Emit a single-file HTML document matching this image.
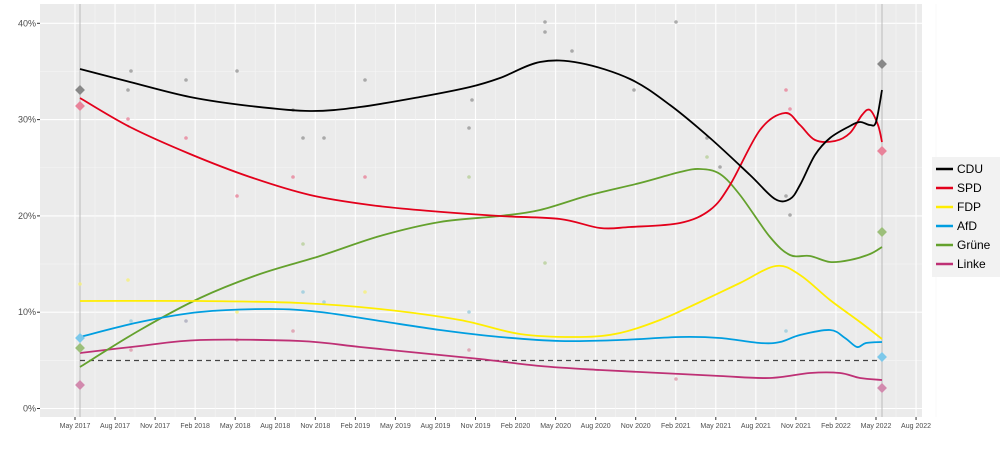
<!DOCTYPE html>
<html><head><meta charset="utf-8"><style>
body{margin:0;background:#fff;width:1000px;height:444px;overflow:hidden;font-family:"Liberation Sans",sans-serif}
</style></head><body>
<svg id="s" width="1000" height="444" xmlns="http://www.w3.org/2000/svg" font-family="Liberation Sans, sans-serif">
<rect x="40" y="4" width="882" height="413" fill="#ebebeb"/>
<g id="grid"></g>
<line x1="80" y1="4" x2="80" y2="417" stroke="#bbb" stroke-width="1"/>
<line x1="882" y1="4" x2="882" y2="417" stroke="#bbb" stroke-width="1"/>
<g id="ylab" font-size="9" fill="#4d4d4d" text-anchor="end"></g>
<g id="xlab" font-size="7" fill="#4d4d4d" text-anchor="middle"></g>
<g id="dots"></g>
<line x1="80" y1="360.5" x2="882" y2="360.5" stroke="#444" stroke-width="1.3" stroke-dasharray="5,4"/>
<g id="lines" fill="none" stroke-width="1.8"></g>
<g transform="translate(932,157)">
<rect x="0" y="0" width="68" height="120" fill="#f2f2f2"/>
<g font-size="12" fill="#000">
<line x1="4" y1="12" x2="21" y2="12" stroke="#000" stroke-width="2.5"/><text x="25" y="16">CDU</text>
<line x1="4" y1="31" x2="21" y2="31" stroke="#e3001b" stroke-width="2.5"/><text x="25" y="35">SPD</text>
<line x1="4" y1="50" x2="21" y2="50" stroke="#ffed00" stroke-width="2.5"/><text x="25" y="54">FDP</text>
<line x1="4" y1="69" x2="21" y2="69" stroke="#009ee0" stroke-width="2.5"/><text x="25" y="73">AfD</text>
<line x1="4" y1="88" x2="21" y2="88" stroke="#64a12d" stroke-width="2.5"/><text x="25" y="92">Grüne</text>
<line x1="4" y1="107" x2="21" y2="107" stroke="#be3075" stroke-width="2.5"/><text x="25" y="111">Linke</text>
</g></g>
</svg>
<script>
var NS="http://www.w3.org/2000/svg";
function el(p,t,a,txt){var e=document.createElementNS(NS,t);for(var k in a)e.setAttribute(k,a[k]);if(txt)e.textContent=txt;document.getElementById(p).appendChild(e);return e;}
var yv=function(v){return 408.5-9.63*v;};
for(var v=5;v<=40;v+=10)el("grid","line",{x1:40,x2:922,y1:yv(v),y2:yv(v),stroke:"#f5f5f5","stroke-width":0.6});
for(var v=0;v<=40;v+=10){el("grid","line",{x1:40,x2:922,y1:yv(v),y2:yv(v),stroke:"#fff","stroke-width":1.1});
el("ylab","text",{x:36,y:yv(v)+3},v+"%");el("ylab","line",{x1:37,x2:40,y1:yv(v),y2:yv(v),stroke:"#333"});}
var xl=["May 2017","Aug 2017","Nov 2017","Feb 2018","May 2018","Aug 2018","Nov 2018","Feb 2019","May 2019","Aug 2019","Nov 2019","Feb 2020","May 2020","Aug 2020","Nov 2020","Feb 2021","May 2021","Aug 2021","Nov 2021","Feb 2022","May 2022","Aug 2022"];
for(var i=0;i<xl.length;i++){var x=75+i*40.05;
el("grid","line",{x1:x+20,x2:x+20,y1:4,y2:417,stroke:"#f5f5f5","stroke-width":0.6});
el("grid","line",{x1:x,x2:x,y1:4,y2:417,stroke:"#fff","stroke-width":1.1});
el("xlab","text",{x:x,y:428},xl[i]);el("xlab","line",{x1:x,x2:x,y1:417,y2:420,stroke:"#333"});}
function path(pts){var d="M"+pts[0][0]+","+pts[0][1];for(var i=0;i<pts.length-1;i++){var p0=pts[i-1]||pts[i],p1=pts[i],p2=pts[i+1],p3=pts[i+2]||p2;
d+=" C"+(p1[0]+(p2[0]-p0[0])/6)+","+(p1[1]+(p2[1]-p0[1])/6)+" "+(p2[0]-(p3[0]-p1[0])/6)+","+(p2[1]-(p3[1]-p1[1])/6)+" "+p2[0]+","+p2[1];}return d;}
var S={
"#be3075":[[80,353],[140,346],[200,340],[300,341],[360,347],[420,353],[480,359],[540,366],[600,370],[660,373],[720,376],[770,378],[810,373],[840,373],[860,378],[882,380]],
"#64a12d":[[80,367],[140,330],[200,298],[260,274],[320,256],[380,236],[440,222],[500,216],[540,210],[590,195],[640,183],[680,172],[700,169],[720,174],[740,195],[770,237],[790,255],[810,256],[830,262],[850,260],[870,254],[882,247]],
"#009ee0":[[80,337],[140,322],[200,312],[270,309],[320,312],[380,321],[440,330],[500,337],[560,341],[620,340],[680,337],[720,338],[760,343],[780,342],[800,335],[830,330],[845,338],[857,347],[866,343],[882,342]],
"#ffed00":[[80,301],[200,301],[300,303],[380,309],[460,320],[520,334],[580,337],[620,333],[660,320],[700,302],[740,283],[776,266],[800,275],[830,300],[860,322],[882,339]],
"#e3001b":[[80,98],[130,127],[190,154],[250,177],[310,195],[370,205],[430,211],[500,216],[560,219],[600,228],[630,227],[680,223],[710,210],[730,185],[760,130],[785,113],[800,125],[815,140],[835,141],[850,133],[862,115],[870,110],[878,125],[882,142]],
"#000":[[80,69],[130,82],[190,97],[250,106],[310,111],[360,107],[420,97],[470,87],[500,78],[540,62],[580,63],[630,79],[670,105],[710,138],[750,175],[775,199],[790,199],[800,185],[815,155],[830,138],[850,126],[860,122],[870,125],[876,122],[882,90]]};
for(var c in S)el("lines","path",{d:path(S[c]),stroke:c});
var sc=[[131,71,"#999"],[128,90,"#999"],[186,80,"#999"],[237,71,"#999"],[293,110,"#999"],[303,138,"#999"],[324,138,"#999"],[365,80,"#999"],[469,128,"#999"],[472,100,"#999"],[545,32,"#999"],[545,22,"#999"],[572,51,"#999"],[634,90,"#999"],[676,22,"#999"],[707,138,"#999"],[720,167,"#999"],[790,215,"#999"],[786,196,"#999"],
[128,119,"#e8839a"],[186,138,"#e8839a"],[237,196,"#e8839a"],[293,177,"#e8839a"],[365,177,"#e8839a"],[786,90,"#e8839a"],[790,109,"#e8839a"],
[131,321,"#9cd"],[186,321,"#aab"],[303,292,"#9cd"],[324,302,"#9cd"],[469,312,"#9cd"],[786,331,"#9cd"],
[80,284,"#f6f07a"],[128,280,"#f6f07a"],[237,312,"#f6f07a"],[365,292,"#f6f07a"],[469,177,"#b8d09a"],[303,244,"#b8d09a"],[545,263,"#b8d09a"],[707,157,"#b8d09a"],
[131,350,"#d9a"],[237,340,"#d9a"],[293,331,"#d9a"],[469,350,"#d9a"],[676,379,"#d9a"]];
sc.forEach(function(d){el("dots","circle",{cx:d[0],cy:d[1],r:1.8,fill:d[2],opacity:0.8});});
var dots=[[80,90,"#888"],[80,106,"#e8839a"],[80,338,"#7cc8ea"],[80,348,"#9cbf7a"],[80,385,"#d28aae"],[882,64,"#888"],[882,151,"#e8839a"],[882,232,"#9cbf7a"],[882,357,"#7cc8ea"],[882,388,"#d28aae"]];
dots.forEach(function(d){el("lines","rect",{x:d[0]-3.5,y:d[1]-3.5,width:7,height:7,fill:d[2],stroke:"none",transform:"rotate(45 "+d[0]+" "+d[1]+")"});});
</script>
</body></html>
